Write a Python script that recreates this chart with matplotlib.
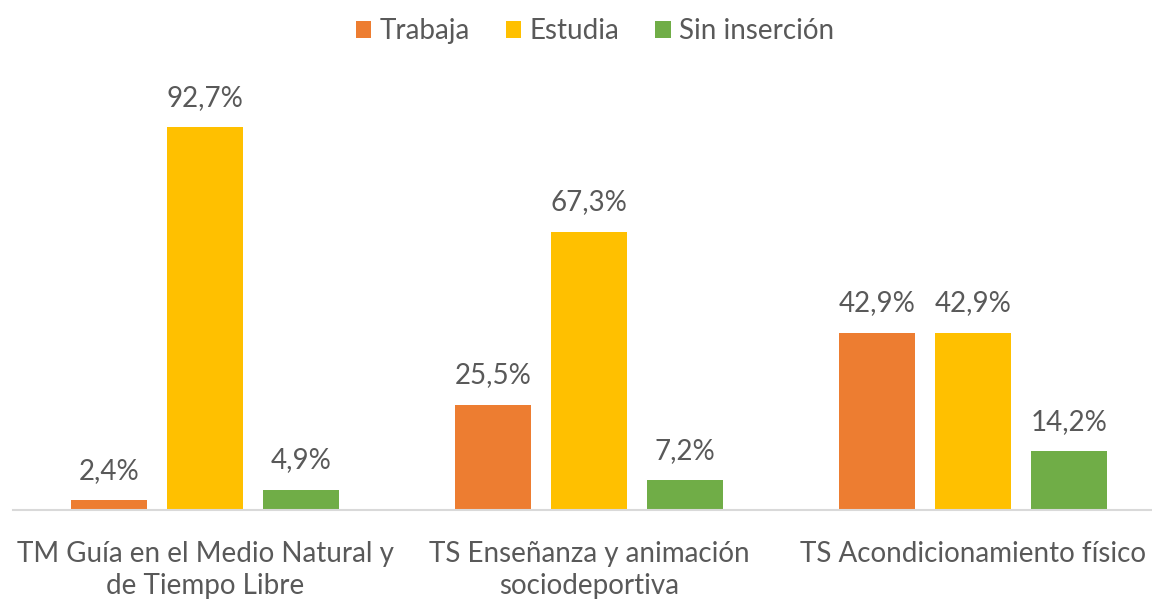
import matplotlib
matplotlib.use("Agg")
import matplotlib.pyplot as plt
import numpy as np

categories = ["TM Guía en el Medio Natural y\nde Tiempo Libre",
              "TS Enseñanza y animación\nsociodeportiva",
              "TS Acondicionamiento físico"]
series_names = ["Trabaja", "Estudia", "Sin inserción"]
trabaja = [2.4, 25.5, 42.9]
estudia = [92.7, 67.3, 42.9]
sin_insercion = [4.9, 7.2, 14.2]
colors = ["#ED7D31", "#FFC000", "#70AD47"]

plt.rcParams['font.family'] = ['Lato', 'DejaVu Sans']
txt = "#595959"
fs = 20

fig = plt.figure(figsize=(11.52, 6.01), dpi=100)
W, H = 1152, 601
ax = fig.add_axes([13 / W, (H - 510) / H, (W - 13) / W, (510 - 97) / H])

x = np.arange(len(categories))
width = 0.198
offsets = [-0.25, 0, 0.25]
for vals, name, col, off in zip([trabaja, estudia, sin_insercion], series_names, colors, offsets):
    bars = ax.bar(x + off, vals, width, color=col, label=name)
    for b, v in zip(bars, vals):
        ax.text(b.get_x() + b.get_width() / 2, v + 4.0, f"{v:.1f}%".replace(".", ","),
                ha="center", va="bottom", fontsize=fs, color=txt, clip_on=False)

ax.set_xlim(-0.5, (W - 205) / 384)
ax.set_ylim(0, 100)
for s in ["top", "right", "left"]:
    ax.spines[s].set_visible(False)
ax.spines["bottom"].set_color("#D9D9D9")
ax.spines["bottom"].set_linewidth(1.5)
ax.set_yticks([])
ax.set_xticks(x)
ax.set_xticklabels(categories, fontsize=fs, color=txt, linespacing=1.3)
ax.tick_params(axis="x", length=0, pad=22)

leg = fig.legend(loc="center", bbox_to_anchor=(595 / W, 1 - 31 / H), ncol=3, frameon=False,
                 fontsize=fs, handlelength=0.55, handleheight=0.55, handletextpad=0.3,
                 columnspacing=1.3)
for t in leg.get_texts():
    t.set_color(txt)

fig.savefig("out.png", dpi=100)
